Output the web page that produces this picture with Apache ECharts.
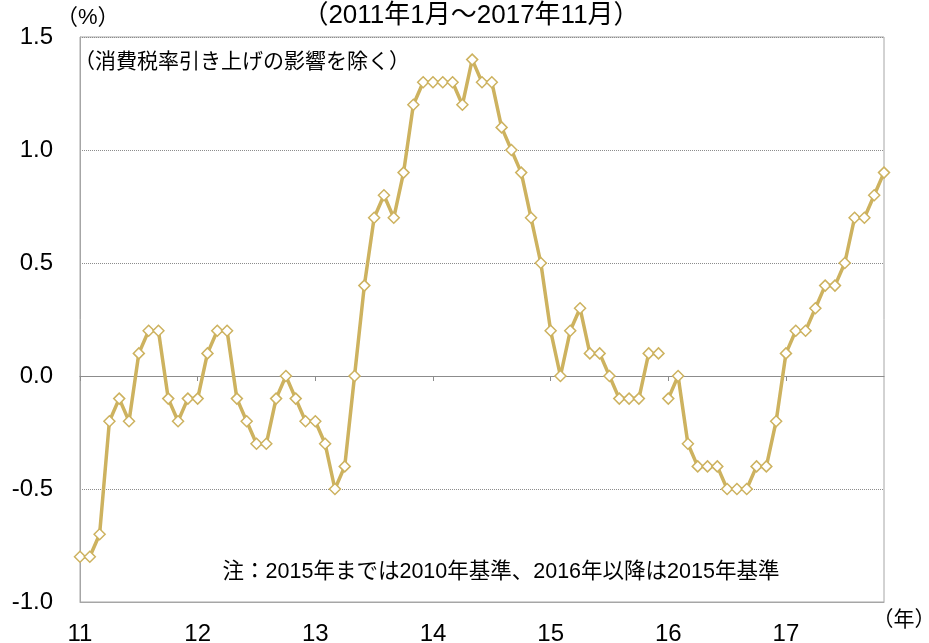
<!DOCTYPE html>
<html>
<head>
<meta charset="utf-8">
<title>CPI</title>
<script src="https://cdn.jsdelivr.net/npm/echarts@6/dist/echarts.min.js"></script>
<style>
    html, body { margin: 0; padding: 0; background: #fff; }
    #chart { width: 929px; height: 643px; }
</style>
</head>
<body>
<div id="chart"></div>
<script>
const yearLabels = ['11', '12', '13', '14', '15', '16', '17'];
const monthsInLastYear = 11;

// 2011/1 - 2015/12 (2010年基準)
const cpiOldBase = [
    -0.8, -0.8, -0.7, -0.2, -0.1, -0.2, 0.1, 0.2, 0.2, -0.1, -0.2, -0.1,
    -0.1, 0.1, 0.2, 0.2, -0.1, -0.2, -0.3, -0.3, -0.1, 0.0, -0.1, -0.2,
    -0.2, -0.3, -0.5, -0.4, 0.0, 0.4, 0.7, 0.8, 0.7, 0.9, 1.2, 1.3,
    1.3, 1.3, 1.3, 1.2, 1.4, 1.3, 1.3, 1.1, 1.0, 0.9, 0.7, 0.5,
    0.2, 0.0, 0.2, 0.3, 0.1, 0.1, 0.0, -0.1, -0.1, -0.1, 0.1, 0.1
];

// 2016/1 - 2017/11 (2015年基準)
const cpiNewBase = [
    -0.1, 0.0, -0.3, -0.4, -0.4, -0.4, -0.5, -0.5, -0.5, -0.4, -0.4, -0.2,
    0.1, 0.2, 0.2, 0.3, 0.4, 0.4, 0.5, 0.7, 0.7, 0.8, 0.9
];

const yMin = -1.0;
const yMax = 1.5;
const yStep = 0.5;

const lineColor = '#CDB25F';
const fontFamily = '"Liberation Sans", "Noto Sans CJK JP", sans-serif';

// one category per month, e.g. "11/1"
const categories = [];
yearLabels.forEach((y, i) => {
    const n = i === yearLabels.length - 1 ? monthsInLastYear : 12;
    for (let m = 1; m <= n; m++) {
        categories.push(y + '/' + m);
    }
});

// the line breaks where the base year changes
const oldData = cpiOldBase.concat(cpiNewBase.map(() => '-'));
const newData = cpiOldBase.map(() => '-').concat(cpiNewBase);

const isJanuary = (index) => index % 12 === 0;

const chart = echarts.init(document.getElementById('chart'));

function lineSeries(data) {
    return {
        type: 'line',
        data: data,
        xAxisIndex: 0,
        symbol: 'diamond',
        symbolSize: 11,
        showAllSymbol: true,
        connectNulls: false,
        lineStyle: { color: lineColor, width: 3.5 },
        itemStyle: { color: '#fff', borderColor: lineColor, borderWidth: 1.5 },
        emphasis: { disabled: true },
        z: 5
    };
}

const option = {
    animation: false,
    backgroundColor: '#fff',
    textStyle: { fontFamily: fontFamily },
    grid: {
        left: 80,
        right: 45,
        top: 37,
        bottom: 41,
        show: true,
        borderColor: '#a6a6a6',
        borderWidth: 1,
        outerBoundsMode: 'none'
    },
    xAxis: [
        {
            // year labels along the bottom
            type: 'category',
            data: categories,
            position: 'bottom',
            boundaryGap: false,
            axisLine: { show: true, onZero: false, lineStyle: { color: '#a6a6a6' } },
            axisTick: { show: false },
            axisLabel: {
                interval: (index) => isJanuary(index),
                formatter: (value) => value.split('/')[0],
                color: '#000',
                fontSize: 24,
                fontFamily: fontFamily,
                margin: 20
            },
            splitLine: { show: false }
        },
        {
            // zero line with ticks at each year
            type: 'category',
            data: categories,
            position: 'bottom',
            boundaryGap: false,
            axisLine: { show: true, onZero: true, lineStyle: { color: '#8c8c8c', width: 1.2 } },
            axisTick: {
                show: true,
                interval: (index) => isJanuary(index),
                length: 5,
                lineStyle: { color: '#8c8c8c' }
            },
            axisLabel: { show: false },
            splitLine: { show: false }
        }
    ],
    yAxis: {
        type: 'value',
        min: yMin,
        max: yMax,
        interval: yStep,
        axisLine: { show: true, lineStyle: { color: '#a6a6a6' } },
        axisTick: { show: false },
        axisLabel: {
            formatter: (v) => v.toFixed(1),
            color: '#000',
            fontSize: 24,
            fontFamily: fontFamily,
            margin: 27
        },
        splitLine: { show: true, lineStyle: { color: '#8c8c8c', type: 'dotted', width: 1 } }
    },
    series: [lineSeries(oldData), lineSeries(newData)],
    graphic: [
        {
            type: 'text',
            style: {
                text: '（2011年1月～2017年11月）',
                x: 471, y: 16,
                align: 'center', verticalAlign: 'middle',
                font: '26px ' + fontFamily, fill: '#000'
            }
        },
        {
            type: 'text',
            style: {
                text: '（%）',
                x: 56, y: 18,
                align: 'left', verticalAlign: 'middle',
                font: '22px ' + fontFamily, fill: '#000'
            }
        },
        {
            type: 'text',
            style: {
                text: '（消費税率引き上げの影響を除く）',
                x: 74, y: 62,
                align: 'left', verticalAlign: 'middle',
                font: '21px ' + fontFamily, fill: '#000'
            }
        },
        {
            type: 'text',
            style: {
                text: '注：2015年までは2010年基準、2016年以降は2015年基準',
                x: 501, y: 572,
                align: 'center', verticalAlign: 'middle',
                font: '21.5px ' + fontFamily, fill: '#000'
            }
        },
        {
            type: 'text',
            style: {
                text: '（年）',
                x: 904, y: 620,
                align: 'center', verticalAlign: 'middle',
                font: '21px ' + fontFamily, fill: '#000'
            }
        }
    ]
};

chart.setOption(option);
</script>
</body>
</html>
